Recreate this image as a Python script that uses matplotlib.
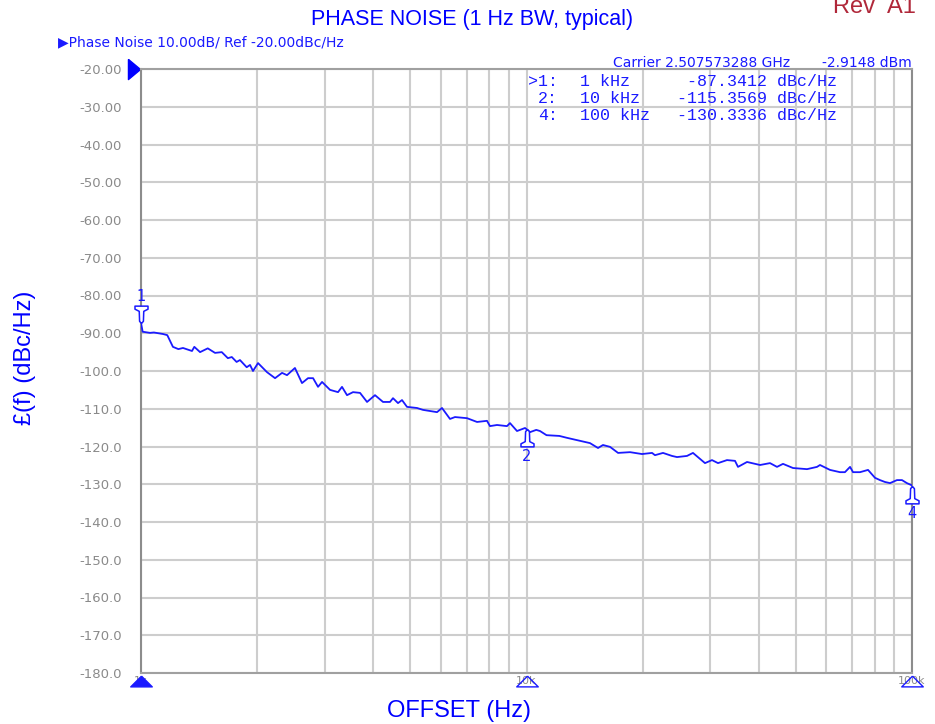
import numpy as np
import matplotlib.pyplot as plt
from matplotlib.ticker import LogLocator, NullFormatter, NullLocator

W, H = 935, 724

# trace (offset in Hz, L(f) in dBc/Hz)
offset_hz = [1000, 1010, 1055, 1080, 1140, 1170, 1210, 1250, 1285, 1356,
             1375, 1423, 1490, 1556, 1620, 1680, 1720, 1770, 1806, 1880,
             1918, 1952, 2012, 2122, 2227, 2322, 2392, 2508, 2616, 2712,
             2795, 2879, 2949, 3093, 3244, 3322, 3423, 3548, 3700, 3858,
             4046, 4244, 4425, 4505, 4642, 4754, 4898, 5200, 5389, 5860,
             6037, 6332, 6524, 7011, 7442, 7898, 8040, 8385, 8900, 9061,
             9449, 9911, 10000, 10210, 10600, 10840, 11270, 12170, 12730, 13770,
             14610, 15330, 15790, 16470, 17280, 18560, 19940, 21170, 21540, 22600,
             23850, 24570, 26080, 27030, 29040, 30280, 31390, 33120, 34740, 35370,
             37330, 40350, 42820, 44650, 46280, 49130, 53420, 56700, 57720, 61270,
             65040, 67000, 69070, 70310, 73310, 76900, 80180, 82600, 85100, 87700,
             91400, 94200, 97000, 100000]
noise_dbc = [-87.3, -89.6, -89.9, -89.8, -90.2, -90.5, -93.6, -94.2, -93.9, -94.7,
             -93.6, -95.0, -94.0, -95.2, -95.0, -96.6, -96.3, -97.6, -97.1, -99.0,
             -98.4, -100.0, -97.9, -100.3, -101.9, -100.5, -101.1, -99.2, -103.2, -101.9,
             -101.9, -104.2, -102.9, -105.0, -105.6, -104.2, -106.4, -105.6, -105.8, -108.2,
             -106.4, -108.2, -108.2, -107.2, -108.5, -107.7, -109.5, -109.8, -110.3, -110.9,
             -109.8, -112.7, -112.2, -112.5, -113.5, -113.2, -114.6, -114.3, -114.6, -113.8,
             -115.9, -115.1, -115.4, -116.2, -115.6, -115.9, -117.0, -117.2, -117.7, -118.5,
             -119.1, -120.4, -119.6, -120.1, -121.7, -121.5, -122.0, -121.7, -122.3, -121.7,
             -122.5, -122.8, -122.5, -121.7, -124.4, -123.6, -124.4, -123.6, -123.8, -125.4,
             -124.1, -124.9, -124.4, -125.4, -124.6, -125.7, -126.0, -125.4, -124.9, -126.2,
             -126.8, -126.8, -125.4, -126.8, -126.8, -126.2, -128.3, -128.9, -129.4, -129.7,
             -128.9, -128.9, -129.7, -130.3]

y_ticks = [-20, -30, -40, -50, -60, -70, -80, -90, -100,
           -110, -120, -130, -140, -150, -160, -170, -180]
y_tick_labels = ["-20.00", "-30.00", "-40.00", "-50.00", "-60.00", "-70.00",
                 "-80.00", "-90.00", "-100.0", "-110.0", "-120.0", "-130.0",
                 "-140.0", "-150.0", "-160.0", "-170.0", "-180.0"]

marker_names = ["1", "2", "4"]
marker_hz = [1000, 10000, 100000]
marker_dbc = [-87.3412, -115.3569, -130.3336]
marker_rows = [">1:", "2:", "4:"]
marker_freq_text = ["1 kHz", "10 kHz", "100 kHz"]

x_tick_text = ["1k", "10k", "100k"]

BLUE = "#1a1aff"
GRAY = "#8a8a8a"


def fx(px):
    return px / W


def fy(py):
    return 1 - py / H


fig = plt.figure(figsize=(W / 100, H / 100), dpi=100)
ax = fig.add_axes([fx(141), 51 / H, 771 / W, 604 / H])

ax.set_xscale("log")
ax.set_xlim(1000, 100000)
ax.set_ylim(-180, -20)
ax.xaxis.set_major_locator(LogLocator(base=10))
ax.xaxis.set_minor_locator(LogLocator(base=10, subs=range(2, 10)))
ax.xaxis.set_major_formatter(NullFormatter())
ax.xaxis.set_minor_formatter(NullFormatter())
ax.set_yticks(y_ticks, y_tick_labels)
ax.yaxis.set_minor_locator(NullLocator())
ax.tick_params(which="both", length=0)
ax.tick_params(axis="y", pad=13.5, labelcolor=GRAY, labelsize=9.5)
ax.grid(which="both", color="#cdcdcd", lw=1.5)
ax.set_axisbelow(True)
for side, sp in ax.spines.items():
    sp.set_color("#a0a0a0" if side in ("top", "bottom") else "#8c8c8c")
    sp.set_linewidth(1.5)

ax.plot(offset_hz, noise_dbc, color=BLUE, lw=1.3, zorder=3)

# marker symbols: apex sits on the trace
stem_up = [(0, 0), (-0.22, -0.25), (-0.26, -1.4), (-0.75, -1.65), (-0.75, -2.0),
           (0.75, -2.0), (0.75, -1.65), (0.26, -1.4), (0.22, -0.25), (0, 0)]
stem_down = [(x, -y) for x, y in stem_up]
for name, f, v in zip(marker_names, marker_hz, marker_dbc):
    up = name != "1"
    ax.plot(f, v, marker=stem_up if up else stem_down, ms=25, mfc="white",
            mec=BLUE, mew=1.1, clip_on=False, zorder=4)
    ax.annotate(name, (f, v), xytext=(0, -28 if up else 27),
                textcoords="offset pixels", ha="center", va="center",
                color=BLUE, fontsize=10.5, annotation_clip=False)

# stimulus markers under the x axis
xt = ax.get_xaxis_transform()
tri = [(0, 0.5), (-1, -0.5), (1, -0.5), (0, 0.5)]
for i, (f, t) in enumerate(zip(marker_hz, x_tick_text)):
    ax.text(f, -0.013, t, transform=xt, ha="center", va="center",
            color=GRAY, fontsize=8, clip_on=False)
    ax.plot(f, -0.014, transform=xt, marker=tri, ms=15.5,
            mfc=BLUE if i == 0 else "none", mec=BLUE, mew=1.0,
            clip_on=False, zorder=5)

# reference level arrow
ref_tri = [(-0.6, 1), (0.6, 0), (-0.6, -1), (-0.6, 1)]
ax.plot(-7 / 771, 1.0, transform=ax.transAxes, marker=ref_tri, ms=14.5,
        mfc="#0000ff", mec="#0000ff", clip_on=False)

# header texts
fig.text(fx(472), fy(25), "PHASE NOISE (1 Hz BW, typical)", ha="center",
         va="baseline", color="#0000ff", fontsize=15.5, family="Liberation Sans")
fig.text(fx(874), fy(13), "Rev  A1", ha="center", va="baseline",
         color="#b0283a", fontsize=17, family="Liberation Sans")
fig.text(fx(58), fy(46.5), "\u25b6Phase Noise 10.00dB/ Ref -20.00dBc/Hz",
         ha="left", va="baseline", color=BLUE, fontsize=10)
fig.text(fx(613), fy(67), "Carrier 2.507573288 GHz", ha="left",
         va="baseline", color=BLUE, fontsize=10)
fig.text(fx(912), fy(67), "-2.9148 dBm", ha="right", va="baseline",
         color=BLUE, fontsize=10)

# marker table
row_base = [86, 103, 120]
for yb, lab, ft, v in zip(row_base, marker_rows, marker_freq_text, marker_dbc):
    kw = dict(va="baseline", color=BLUE, fontsize=12, family="Liberation Mono")
    fig.text(fx(558), fy(yb), lab, ha="right", **kw)
    fig.text(fx(580), fy(yb), ft, ha="left", **kw)
    fig.text(fx(837), fy(yb), "%.4f dBc/Hz" % v, ha="right", **kw)

# axis titles
fig.text(fx(459), fy(717), "OFFSET (Hz)", ha="center", va="baseline",
         color="#0000ff", fontsize=17, family="Liberation Sans")
fig.text(fx(25), fy(358), "\u00a3(f) (dBc/Hz)", ha="center", va="center",
         rotation=90, color="#0000ff", fontsize=17, family="Liberation Sans")

fig.savefig("out.png", dpi=100)
